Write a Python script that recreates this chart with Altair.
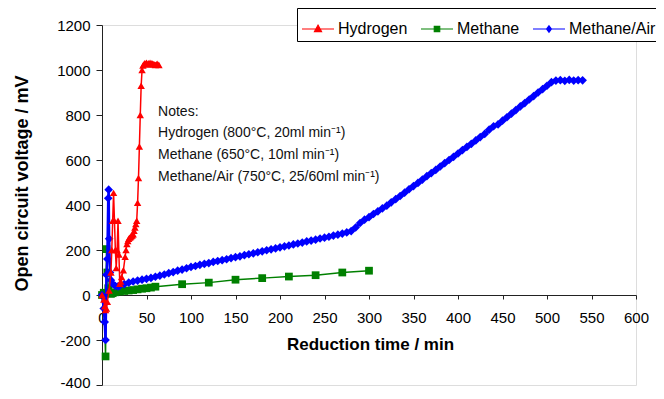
import altair as alt
import pandas as pd

# ---------------- data ----------------
series_names = ["Hydrogen", "Methane", "Methane/Air"]
series_colors = ["#ff0000", "#008000", "#0000ff"]

hyd_t = [0, 2, 3, 4, 5, 6, 8, 10, 11, 12, 13, 14, 15, 16, 17, 18, 19, 20, 21, 22,
         24, 26, 27, 28, 29, 30, 31, 32, 33, 34, 35, 36, 37, 38, 39, 40, 41, 42, 43,
         44, 45, 46, 47, 48, 49, 50, 51, 52, 53, 54, 55, 56, 57, 58, 59, 60, 61, 62, 63, 64]
hyd_v = [0, -20, -50, -67, -60, -30, 20, 100, 200, 330, 454, 330, 200, 120, 200, 330, 180, 50, 60, 80,
         110, 170, 200, 226, 240, 250, 255, 258, 262, 265, 270, 285, 300, 315, 330, 410, 520, 660, 800,
         930, 1000, 1020, 1025, 1030, 1028, 1032, 1025, 1030, 1027, 1032, 1025, 1030, 1028, 1026, 1025,
         1022, 1025, 1028, 1024, 1022]

met_t = [0, 2, 4, 5, 6, 7, 8, 10, 12, 15, 20, 25, 30, 35, 40, 45, 50, 55, 60,
         90, 120, 150, 180, 210, 240, 270, 300]
met_v = [0, 10, -273, 204, 100, 30, 10, 5, 8, 12, 15, 18, 20, 22, 25, 28, 30, 33, 37,
         48, 55, 68, 75, 82, 88, 100, 108]

air_t = [0, 2, 3, 4, 5, 6, 7, 7.5, 8, 9, 10, 12, 15, 18,
         20, 25, 30, 35, 40, 45, 50, 55, 60, 65, 70, 75, 80, 85, 90, 95, 100,
         105, 110, 115, 120, 125, 130, 135, 140, 145, 150, 155, 160, 165, 170, 175, 180,
         185, 190, 195, 200, 205, 210, 215, 220, 225, 230, 235, 240, 245, 250, 255, 260,
         265, 270, 275, 280, 285, 290, 295, 300, 305, 310, 315, 320, 325, 330, 335, 340,
         345, 350, 355, 360, 365, 370, 375, 380, 385, 390, 395, 400, 405, 410, 415, 420,
         425, 430, 435, 440, 445, 450, 455, 460, 465, 470, 475, 480, 485, 490, 495, 500,
         505, 510, 515, 520, 525, 530, 535, 540]
air_v = [0, -60, -120, -200, 90, 160, 430, 468, 250, 100, 66, 50, 40, 38,
         42, 48, 55, 60, 64, 68, 72, 76, 81, 86, 91, 97, 102, 108, 113, 119, 125,
         129, 134, 138, 142, 147, 151, 155, 159, 164, 168, 172, 177, 181, 185, 190, 194,
         199, 203, 207, 212, 216, 220, 225, 229, 233, 238, 242, 246, 251, 255, 259, 264,
         268, 273, 278, 284, 300, 320, 335, 346, 360, 372, 385, 397, 412, 426, 440, 455,
         470, 484, 498, 513, 528, 542, 556, 571, 586, 600, 614, 629, 644, 658, 672, 687,
         702, 716, 735, 750, 758, 775, 790, 806, 822, 838, 853, 869, 884, 900, 915, 930,
         946, 953, 955, 952, 956, 953, 955, 954]

notes_lines = ["Notes:",
               "Hydrogen (800°C, 20ml min⁻¹)",
               "Methane (650°C, 10ml min⁻¹)",
               "Methane/Air (750°C, 25/60ml min⁻¹)"]
notes_x = [63, 63, 63, 63]
notes_y = [815, 718, 621, 524]

x_ticks = [0, 50, 100, 150, 200, 250, 300, 350, 400, 450, 500, 550, 600]
y_ticks = [-400, -200, 0, 200, 400, 600, 800, 1000, 1200]

# legend symbols: a line segment with the marker on it
legend_shapes = [
    "M-1,0L1,0M0,-0.24L0.22,0.16L-0.22,0.16Z",
    "M-1,0L1,0M-0.17,-0.17L0.17,-0.17L0.17,0.17L-0.17,0.17Z",
    "M-1,0L1,0M0,-0.2L0.15,0L0,0.2L-0.15,0Z",
]

FONT = "Liberation Sans"
PLOT_H = 360
PAD_TOP = 17

xs = alt.Scale(domain=[0, 600], nice=False, zero=False)
ys = alt.Scale(domain=[-400, 1200], nice=False, zero=False)

zero_offset = PLOT_H * 1200 / 1600 - PLOT_H  # move x axis to y = 0
x_axis = alt.Axis(
    values=x_ticks, title="Reduction time / min", grid=False, offset=zero_offset,
    domainColor="#222222", tickColor="#222222", tickSize=4, labelPadding=11,
    labelFont=FONT, labelFontSize=15, labelColor="black",
    labelExpr="'' + datum.value", labelFlush=False, labelOverlap=False,
    titleFont=FONT, titleFontSize=17, titleFontWeight="bold", titleColor="black",
    titleX=268, titleY=49, titleBaseline="middle", titleAlign="center",
)
y_axis = alt.Axis(
    values=y_ticks, title="Open circuit voltage / mV", grid=False,
    domainColor="#222222", tickColor="#222222", tickSize=6, labelPadding=6,
    labelFont=FONT, labelFontSize=15, labelColor="black",
    labelExpr="'' + datum.value", labelFlush=False, labelOverlap=False,
    labelOffset={"condition": {"test": "datum.value == -400", "value": -3}, "value": 0},
    titleFont=FONT, titleFontSize=18, titleFontWeight="bold", titleColor="black",
    titleAngle=270, titleX=-80, titleY=158, titleBaseline="middle", titleAlign="center",
)


def series_layers(t, v, color, shape, size, sw):
    df = pd.DataFrame({"t": t, "v": v, "i": list(range(len(t)))})
    base = alt.Chart(df)
    line = base.mark_line(color=color, strokeWidth=sw).encode(
        x=alt.X("t:Q", scale=xs, axis=x_axis),
        y=alt.Y("v:Q", scale=ys, axis=y_axis),
        order="i:Q",
    )
    pts = base.mark_point(shape=shape, filled=True, color=color, size=size, opacity=1).encode(
        x=alt.X("t:Q", scale=xs, axis=x_axis),
        y=alt.Y("v:Q", scale=ys, axis=y_axis),
    )
    return [line, pts]


layers = []
layers += series_layers(met_t, met_v, series_colors[1], "square", 60, 1.5)
layers += series_layers(air_t, air_v, series_colors[2], "diamond", 75, 2.5)
layers += series_layers(hyd_t, hyd_v, series_colors[0], "triangle-up", 55, 1.5)

notes_df = pd.DataFrame({"x": notes_x, "y": notes_y, "txt": notes_lines})
notes = alt.Chart(notes_df).mark_text(
    align="left", baseline="middle", font=FONT, fontSize=14, color="#111111"
).encode(
    x=alt.X("x:Q", scale=xs, axis=x_axis),
    y=alt.Y("y:Q", scale=ys, axis=y_axis),
    text="txt:N",
)
layers.append(notes)

leg = alt.Legend(
    orient="none", legendX=195, legendY=8 - (8 + PAD_TOP), direction="horizontal", title=None,
    strokeColor="black", padding=4, symbolSize=1024, symbolStrokeWidth=1.2,
    labelFont=FONT, labelFontSize=16, labelColor="black", labelOffset=3,
    columnPadding=10, fillColor="white",
)
legend_df = pd.DataFrame({"series": series_names})
legend_layer = alt.Chart(legend_df).mark_point(filled=True, opacity=1).encode(
    fill=alt.Fill("series:N", scale=alt.Scale(domain=series_names, range=series_colors), legend=leg),
    stroke=alt.Stroke("series:N", scale=alt.Scale(domain=series_names, range=series_colors), legend=leg),
    shape=alt.Shape("series:N", scale=alt.Scale(domain=series_names, range=legend_shapes), legend=leg),
).transform_filter("false")
layers.append(legend_layer)

chart = alt.layer(*layers).properties(
    width=534, height=PLOT_H,
    padding={"left": 94, "top": PAD_TOP, "right": 20, "bottom": 6},
    autosize="none",
).configure_view(stroke=None).configure(background="white")

chart.save("out.html", embed_options={"renderer": "svg", "actions": False})
